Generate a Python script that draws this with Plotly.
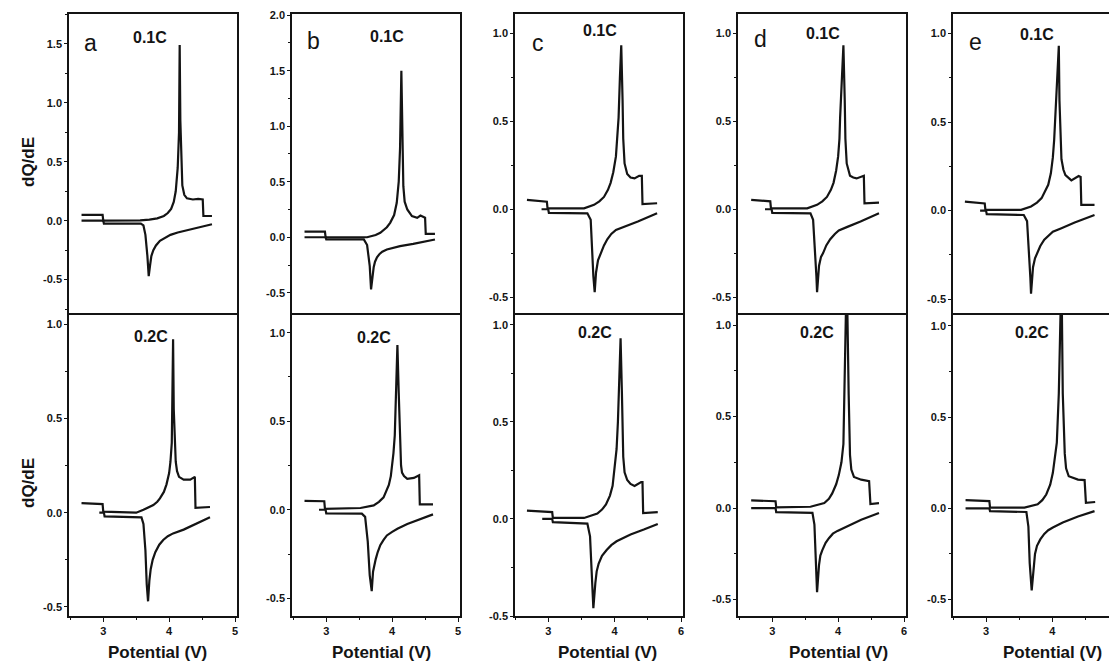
import plotly.graph_objects as go

W, H = 1117, 665
OFF = 8  # page body margin of the browser
W_FIG, H_FIG = W - OFF, H - OFF

# ---------------- text ----------------
panel_letters = ["a", "b", "c", "d", "e"]
rate_labels = ["0.1C", "0.2C"]
x_title = "Potential (V)"
y_title = "dQ/dE"

# ---------------- ticks ----------------
x_tick_vals = [3, 4, 5]
x_tick_text = [["3", "4", "5"], ["3", "4", "5"], ["3", "4", "6"], ["3", "4", "6"], ["3", "4", "6"]]
y_tick_vals_a_top = [-0.5, 0.0, 0.5, 1.0, 1.5]
y_tick_text_a_top = ["-0.5", "0.0", "0.5", "1.0", "1.5"]
y_tick_vals_b_top = [-0.5, 0.0, 0.5, 1.0, 1.5, 2.0]
y_tick_text_b_top = ["-0.5", "0.0", "0.5", "1.0", "1.5", "2.0"]
y_tick_vals_std = [-0.5, 0.0, 0.5, 1.0]
y_tick_text_std = ["-0.5", "0.0", "0.5", "1.0"]

# ---------------- axis ranges ----------------
x_range_start = [2.48, 2.48, 2.50, 2.48, 2.50]
x_range_end = [5.03, 5.03, 5.03, 5.03, 4.98]
y_range_top = [[-0.80, 1.754], [-0.70, 2.01], [-0.60, 1.108], [-0.60, 1.108], [-0.59, 1.11]]
y_range_bot = [[-0.548, 1.048], [-0.60, 1.10], [-0.50, 1.05], [-0.59, 1.055], [-0.59, 1.06]]

# ---------------- data: panel a ----------------
a_top_chg_x = [2.67, 2.99, 3.00, 3.30, 3.56, 3.70, 3.82, 3.92, 3.98, 4.03, 4.07, 4.10, 4.13, 4.15, 4.16, 4.17, 4.185, 4.20, 4.23, 4.27, 4.36, 4.44, 4.51, 4.52, 4.65]
a_top_chg_y = [0.05, 0.05, 0.0, 0.0, 0.003, 0.01, 0.02, 0.04, 0.065, 0.10, 0.16, 0.25, 0.45, 0.75, 1.49, 0.85, 0.45, 0.30, 0.22, 0.19, 0.18, 0.185, 0.18, 0.04, 0.04]
a_top_dis_x = [2.67, 3.00, 3.01, 3.57, 3.61, 3.64, 3.67, 3.69, 3.71, 3.73, 3.76, 3.80, 3.86, 3.93, 4.02, 4.13, 4.28, 4.49, 4.65]
a_top_dis_y = [0.0, 0.0, -0.025, -0.025, -0.04, -0.12, -0.30, -0.47, -0.38, -0.30, -0.25, -0.21, -0.17, -0.145, -0.12, -0.10, -0.08, -0.05, -0.03]
a_bot_chg_x = [2.67, 2.99, 3.00, 3.50, 3.61, 3.70, 3.76, 3.82, 3.86, 3.92, 3.96, 4.00, 4.02, 4.04, 4.05, 4.06, 4.07, 4.085, 4.10, 4.12, 4.15, 4.22, 4.32, 4.39, 4.40, 4.62]
a_bot_chg_y = [0.05, 0.045, 0.005, 0.0, 0.015, 0.028, 0.04, 0.058, 0.076, 0.11, 0.15, 0.21, 0.27, 0.37, 0.55, 0.92, 0.55, 0.36, 0.27, 0.22, 0.19, 0.175, 0.175, 0.19, 0.025, 0.03]
a_bot_dis_x = [2.94, 3.01, 3.02, 3.58, 3.61, 3.64, 3.66, 3.68, 3.70, 3.72, 3.75, 3.79, 3.85, 3.91, 3.98, 4.06, 4.22, 4.42, 4.62]
a_bot_dis_y = [0.0, 0.0, -0.02, -0.025, -0.06, -0.20, -0.38, -0.47, -0.36, -0.30, -0.25, -0.21, -0.17, -0.145, -0.125, -0.11, -0.09, -0.057, -0.025]

# ---------------- data: panel b ----------------
b_top_chg_x = [2.67, 2.98, 2.99, 3.30, 3.62, 3.75, 3.82, 3.92, 3.97, 4.03, 4.07, 4.10, 4.12, 4.14, 4.155, 4.17, 4.19, 4.23, 4.30, 4.38, 4.43, 4.50, 4.51, 4.65]
b_top_chg_y = [0.05, 0.05, 0.0, 0.0, 0.0, 0.02, 0.04, 0.09, 0.13, 0.20, 0.31, 0.50, 0.80, 1.50, 0.80, 0.46, 0.32, 0.25, 0.19, 0.175, 0.195, 0.175, 0.03, 0.03]
b_top_dis_x = [2.67, 2.99, 3.00, 3.57, 3.62, 3.66, 3.68, 3.70, 3.72, 3.74, 3.77, 3.81, 3.85, 3.92, 4.02, 4.12, 4.32, 4.65]
b_top_dis_y = [0.0, 0.0, -0.02, -0.02, -0.07, -0.26, -0.47, -0.36, -0.27, -0.22, -0.18, -0.15, -0.13, -0.11, -0.095, -0.08, -0.06, -0.02]
b_bot_chg_x = [2.67, 2.97, 2.98, 3.52, 3.72, 3.80, 3.87, 3.92, 3.95, 3.98, 4.00, 4.02, 4.04, 4.06, 4.08, 4.10, 4.12, 4.135, 4.15, 4.18, 4.23, 4.33, 4.41, 4.42, 4.62]
b_bot_chg_y = [0.05, 0.048, 0.005, 0.01, 0.025, 0.045, 0.07, 0.11, 0.14, 0.19, 0.25, 0.32, 0.42, 0.76, 0.93, 0.66, 0.34, 0.25, 0.21, 0.19, 0.175, 0.18, 0.195, 0.03, 0.03]
b_bot_dis_x = [2.89, 2.99, 3.00, 3.54, 3.59, 3.63, 3.66, 3.69, 3.71, 3.73, 3.75, 3.78, 3.82, 3.87, 3.92, 4.00, 4.08, 4.23, 4.43, 4.62]
b_bot_dis_y = [0.0, 0.0, -0.02, -0.022, -0.04, -0.18, -0.37, -0.46, -0.35, -0.31, -0.28, -0.24, -0.20, -0.17, -0.145, -0.125, -0.107, -0.08, -0.05, -0.026]

# ---------------- data: panel c ----------------
c_top_chg_x = [2.68, 2.98, 2.99, 3.54, 3.69, 3.77, 3.84, 3.90, 3.94, 3.98, 4.02, 4.04, 4.06, 4.08, 4.10, 4.12, 4.13, 4.15, 4.19, 4.24, 4.30, 4.37, 4.41, 4.42, 4.64]
c_top_chg_y = [0.053, 0.043, 0.005, 0.005, 0.025, 0.045, 0.07, 0.11, 0.15, 0.21, 0.30, 0.39, 0.52, 0.75, 0.93, 0.62, 0.40, 0.26, 0.20, 0.18, 0.175, 0.19, 0.19, 0.03, 0.034]
c_top_dis_x = [2.90, 3.00, 3.01, 3.59, 3.64, 3.66, 3.68, 3.70, 3.72, 3.75, 3.79, 3.84, 3.89, 3.95, 4.02, 4.14, 4.35, 4.64]
c_top_dis_y = [0.0, 0.0, -0.02, -0.023, -0.06, -0.23, -0.38, -0.47, -0.36, -0.29, -0.25, -0.205, -0.17, -0.14, -0.117, -0.10, -0.07, -0.023]
c_bot_chg_x = [2.68, 3.06, 3.07, 3.54, 3.74, 3.81, 3.87, 3.93, 3.97, 4.00, 4.03, 4.05, 4.06, 4.09, 4.11, 4.13, 4.15, 4.19, 4.24, 4.30, 4.40, 4.42, 4.43, 4.65]
c_bot_chg_y = [0.043, 0.035, 0.005, 0.005, 0.028, 0.048, 0.074, 0.12, 0.17, 0.25, 0.36, 0.50, 0.65, 0.93, 0.65, 0.32, 0.24, 0.20, 0.18, 0.17, 0.19, 0.19, 0.03, 0.035]
c_bot_dis_x = [2.91, 3.06, 3.07, 3.59, 3.63, 3.66, 3.68, 3.71, 3.73, 3.76, 3.81, 3.88, 3.95, 4.03, 4.24, 4.44, 4.65]
c_bot_dis_y = [0.0, 0.0, -0.017, -0.024, -0.09, -0.30, -0.46, -0.33, -0.27, -0.23, -0.19, -0.16, -0.135, -0.115, -0.08, -0.055, -0.026]

# ---------------- data: panel d ----------------
d_top_chg_x = [2.68, 2.97, 2.98, 3.53, 3.68, 3.76, 3.83, 3.89, 3.93, 3.97, 4.00, 4.02, 4.03, 4.06, 4.08, 4.10, 4.11, 4.13, 4.18, 4.23, 4.28, 4.39, 4.40, 4.62]
d_top_chg_y = [0.053, 0.045, 0.005, 0.005, 0.025, 0.045, 0.07, 0.11, 0.15, 0.22, 0.30, 0.40, 0.52, 0.75, 0.93, 0.62, 0.40, 0.26, 0.19, 0.18, 0.175, 0.19, 0.034, 0.038]
d_top_dis_x = [2.89, 2.99, 3.00, 3.58, 3.62, 3.65, 3.67, 3.68, 3.71, 3.74, 3.77, 3.82, 3.88, 3.95, 4.01, 4.14, 4.34, 4.62]
d_top_dis_y = [0.0, 0.0, -0.02, -0.023, -0.06, -0.23, -0.38, -0.47, -0.32, -0.27, -0.25, -0.205, -0.17, -0.14, -0.12, -0.10, -0.07, -0.023]
d_bot_chg_x = [2.68, 3.05, 3.06, 3.58, 3.79, 3.86, 3.91, 3.97, 4.01, 4.05, 4.08, 4.10, 4.13, 4.16, 4.18, 4.20, 4.24, 4.35, 4.47, 4.49, 4.62]
d_bot_chg_y = [0.042, 0.037, 0.004, 0.007, 0.027, 0.05, 0.08, 0.13, 0.18, 0.25, 0.35, 0.62, 1.30, 0.62, 0.29, 0.21, 0.17, 0.155, 0.147, 0.022, 0.027]
d_bot_dis_x = [2.68, 3.05, 3.06, 3.61, 3.64, 3.66, 3.68, 3.71, 3.73, 3.76, 3.81, 3.86, 3.92, 3.99, 4.14, 4.35, 4.62]
d_bot_dis_y = [0.0, 0.0, -0.022, -0.026, -0.09, -0.29, -0.46, -0.31, -0.26, -0.23, -0.19, -0.165, -0.14, -0.125, -0.10, -0.064, -0.027]

# ---------------- data: panel e ----------------
e_top_chg_x = [2.68, 2.98, 2.99, 3.53, 3.68, 3.77, 3.84, 3.90, 3.94, 3.98, 4.01, 4.03, 4.05, 4.07, 4.10, 4.11, 4.125, 4.14, 4.17, 4.20, 4.29, 4.40, 4.43, 4.44, 4.64]
e_top_chg_y = [0.05, 0.04, 0.004, 0.004, 0.023, 0.045, 0.07, 0.11, 0.145, 0.21, 0.30, 0.40, 0.53, 0.72, 0.93, 0.62, 0.40, 0.29, 0.23, 0.20, 0.17, 0.195, 0.19, 0.032, 0.032]
e_top_dis_x = [2.91, 3.00, 3.01, 3.57, 3.62, 3.65, 3.67, 3.68, 3.71, 3.74, 3.77, 3.82, 3.88, 3.95, 4.01, 4.14, 4.34, 4.64]
e_top_dis_y = [0.0, 0.0, -0.02, -0.025, -0.06, -0.22, -0.38, -0.47, -0.32, -0.27, -0.24, -0.20, -0.165, -0.14, -0.12, -0.10, -0.068, -0.025]
e_bot_chg_x = [2.69, 3.05, 3.06, 3.58, 3.78, 3.85, 3.91, 3.97, 4.01, 4.04, 4.07, 4.10, 4.14, 4.16, 4.19, 4.21, 4.25, 4.39, 4.49, 4.51, 4.65]
e_bot_chg_y = [0.045, 0.04, 0.004, 0.004, 0.022, 0.045, 0.076, 0.13, 0.195, 0.27, 0.36, 0.63, 1.30, 0.63, 0.30, 0.22, 0.176, 0.158, 0.155, 0.03, 0.035]
e_bot_dis_x = [2.69, 3.05, 3.06, 3.61, 3.64, 3.66, 3.69, 3.72, 3.74, 3.77, 3.82, 3.88, 3.94, 4.01, 4.16, 4.39, 4.64]
e_bot_dis_y = [0.0, 0.0, -0.015, -0.02, -0.10, -0.30, -0.45, -0.30, -0.25, -0.205, -0.17, -0.14, -0.12, -0.105, -0.078, -0.045, -0.015]

top_data = [
    (a_top_chg_x, a_top_chg_y, a_top_dis_x, a_top_dis_y),
    (b_top_chg_x, b_top_chg_y, b_top_dis_x, b_top_dis_y),
    (c_top_chg_x, c_top_chg_y, c_top_dis_x, c_top_dis_y),
    (d_top_chg_x, d_top_chg_y, d_top_dis_x, d_top_dis_y),
    (e_top_chg_x, e_top_chg_y, e_top_dis_x, e_top_dis_y),
]
bot_data = [
    (a_bot_chg_x, a_bot_chg_y, a_bot_dis_x, a_bot_dis_y),
    (b_bot_chg_x, b_bot_chg_y, b_bot_dis_x, b_bot_dis_y),
    (c_bot_chg_x, c_bot_chg_y, c_bot_dis_x, c_bot_dis_y),
    (d_bot_chg_x, d_bot_chg_y, d_bot_dis_x, d_bot_dis_y),
    (e_bot_chg_x, e_bot_chg_y, e_bot_dis_x, e_bot_dis_y),
]
top_ticks = [
    (y_tick_vals_a_top, y_tick_text_a_top),
    (y_tick_vals_b_top, y_tick_text_b_top),
    (y_tick_vals_std, y_tick_text_std),
    (y_tick_vals_std, y_tick_text_std),
    (y_tick_vals_std, y_tick_text_std),
]

# ---------------- layout geometry (window pixels) ----------------
panel_left_px = [69, 292, 515, 738, 953]
panel_width_px = 168
row_top_px = [14, 315]
row_bot_px = [315, 616]
letter_pos = [(90, 43), (313, 41), (538, 43), (760, 39), (975, 42)]
rate_top_pos = [(150, 37), (387, 36), (600, 31), (823, 33), (1037, 34)]
rate_bot_pos = [(151, 336), (374, 337), (595, 332), (817, 332), (1032, 332)]
xtitle_pos = [(158, 652), (381, 652), (607, 652), (838, 652), (1052, 652)]
ytitle_pos = [(28, 162), (28, 483)]

FONT = "Liberation Sans, Arial, Helvetica, sans-serif"
INK = "#141414"


def px_x(p):
    return (p - OFF) / W_FIG


def px_y(p):
    return 1 - (p - OFF) / H_FIG


fig = go.Figure()
layout = dict(
    width=W_FIG, height=H_FIG,
    margin=dict(l=0, r=0, t=0, b=0),
    paper_bgcolor="white", plot_bgcolor="white",
    showlegend=False,
    font=dict(family=FONT, color=INK),
)

annotations = []
for row in range(2):
    for i in range(5):
        k = row * 5 + i + 1
        sx = "" if k == 1 else str(k)
        cx, cy, dx, dy = (top_data if row == 0 else bot_data)[i]
        for xs, ys in ((cx, cy), (dx, dy)):
            fig.add_trace(go.Scatter(
                x=xs, y=ys, mode="lines",
                line=dict(color=INK, width=2.2),
                xaxis="x" + sx, yaxis="y" + sx,
                hoverinfo="skip", showlegend=False,
            ))
        left = panel_left_px[i]
        right = min(left + panel_width_px, W)
        xdom = [max(px_x(left), 0), min(px_x(right), 1)]
        ydom = [px_y(row_bot_px[row]), px_y(row_top_px[row])]
        xa = dict(
            domain=xdom, range=[x_range_start[i], x_range_end[i]],
            anchor="y" + sx, showline=True,
            linecolor=INK, linewidth=1.5, showgrid=False, zeroline=False,
            automargin=False,
        )
        if row == 1:
            xa.update(
                mirror=True,
                tickmode="array", tickvals=x_tick_vals, ticktext=x_tick_text[i],
                ticks="outside", ticklen=4, tickwidth=1.2, tickcolor=INK,
                tickfont=dict(family=FONT, size=11, color=INK, weight="bold"),
                minor=dict(ticks="outside", ticklen=2, tickcolor=INK, dtick=0.5, tick0=2.5),
            )
        else:
            # only the top border; the shared border is drawn by the lower panel
            xa.update(side="top", mirror=False, showticklabels=False, ticks="")
        if row == 0:
            tv, tt = top_ticks[i]
            yr = y_range_top[i]
        else:
            tv, tt = y_tick_vals_std, y_tick_text_std
            yr = y_range_bot[i]
        ya = dict(
            domain=ydom, range=yr, anchor="x" + sx,
            showline=True, mirror=True, linecolor=INK, linewidth=1.5,
            showgrid=False, zeroline=False, automargin=False,
            tickmode="array", tickvals=tv, ticktext=tt,
            ticks="outside", ticklen=3, tickwidth=1.2, tickcolor=INK,
            tickfont=dict(family=FONT, size=11, color=INK, weight="bold"),
            minor=dict(ticks="outside", ticklen=2, tickcolor=INK, dtick=0.25, tick0=0),
        )
        layout["xaxis" + sx] = xa
        layout["yaxis" + sx] = ya

for i in range(5):
    lx, ly = letter_pos[i]
    annotations.append(dict(
        x=px_x(lx), y=px_y(ly), xref="paper", yref="paper", text=panel_letters[i],
        showarrow=False, xanchor="center", yanchor="middle",
        font=dict(family=FONT, size=23, color=INK),
    ))
    for (rx, ry), lab in ((rate_top_pos[i], rate_labels[0]), (rate_bot_pos[i], rate_labels[1])):
        annotations.append(dict(
            x=px_x(rx), y=px_y(ry), xref="paper", yref="paper", text=lab,
            showarrow=False, xanchor="center", yanchor="middle",
            font=dict(family=FONT, size=16, color=INK, weight="bold"),
        ))
    tx, ty = xtitle_pos[i]
    annotations.append(dict(
        x=px_x(tx), y=px_y(ty), xref="paper", yref="paper", text=x_title,
        showarrow=False, xanchor="center", yanchor="middle",
        font=dict(family=FONT, size=17, color=INK, weight="bold"),
    ))
for tx, ty in ytitle_pos:
    annotations.append(dict(
        x=px_x(tx), y=px_y(ty), xref="paper", yref="paper", text=y_title,
        showarrow=False, xanchor="center", yanchor="middle", textangle=-90,
        font=dict(family=FONT, size=17, color=INK, weight="bold"),
    ))

layout["annotations"] = annotations
fig.update_layout(**layout)
fig.write_html("out.html")
